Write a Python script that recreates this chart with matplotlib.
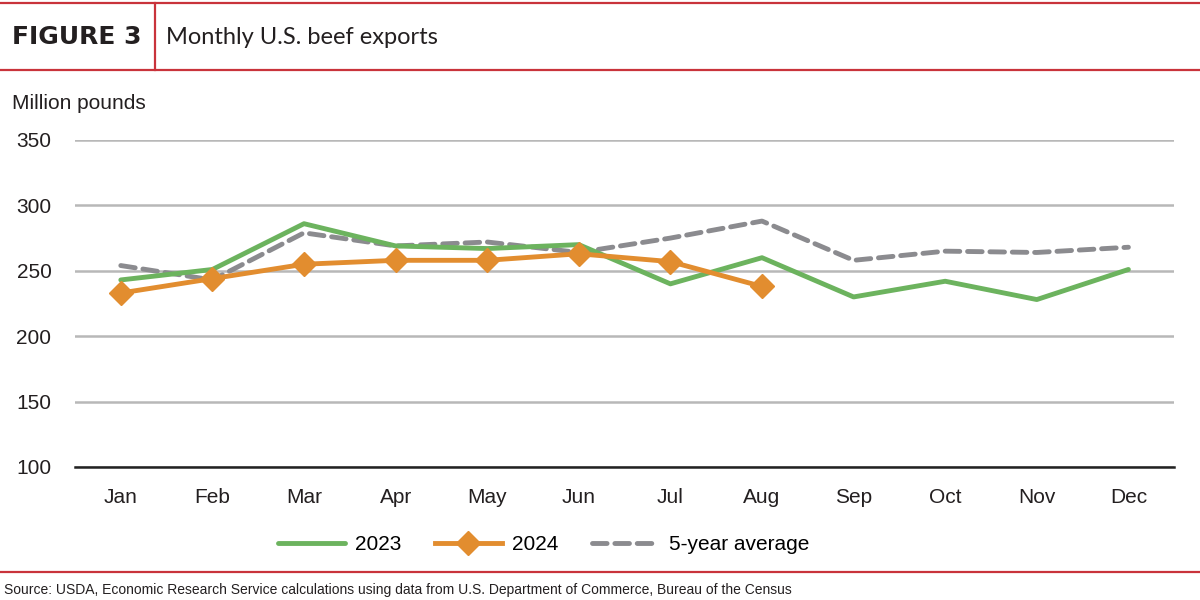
import matplotlib.pyplot as plt
from matplotlib.lines import Line2D

# === DATA ===
months = ["Jan", "Feb", "Mar", "Apr", "May", "Jun", "Jul", "Aug", "Sep", "Oct", "Nov", "Dec"]
y2023 = [243, 251, 286, 269, 267, 270, 240, 260, 230, 242, 228, 251]
y2024 = [233, 244, 255, 258, 258, 263, 257, 238]
avg5 = [254, 243, 279, 269, 272, 264, 275, 288, 258, 265, 264, 268]
yticks = [100, 150, 200, 250, 300, 350]

# === STYLE ===
RED = "#c9333b"
GREEN = "#6cb35e"
ORANGE = "#e28d2f"
GRAY = "#8b8b8f"
GRID = "#b8b8b8"
TXT = "#231f20"
narrow = ["Liberation Sans Narrow", "Liberation Sans", "DejaVu Sans"]

fig = plt.figure(figsize=(12, 6), dpi=100)
ax = fig.add_axes([0.0625, 0.2217, 0.916, 0.545])

x = list(range(len(months)))
ax.plot(x, y2023, color=GREEN, lw=3.5, solid_capstyle="round", zorder=3)
ax.plot(x[:len(y2024)], y2024, color=ORANGE, lw=3.5, marker="D", markersize=12, zorder=4)
ax.plot(x, avg5, color=GRAY, lw=3.5, linestyle=(0, (3, 1.6)), dash_capstyle="round", zorder=2)

ax.set_xlim(-0.5, 11.5)
ax.set_ylim(100, 350)
ax.set_yticks(yticks)
ax.set_xticks(x)
ax.set_xticklabels(months, family=narrow, fontsize=15, color=TXT)
ax.set_yticklabels([str(v) for v in yticks], family=narrow, fontsize=15, color=TXT)
ax.tick_params(length=0)
ax.tick_params(axis="x", pad=15)
ax.tick_params(axis="y", pad=17)
ax.grid(axis="y", color=GRID, lw=1.8)
ax.set_axisbelow(True)
for s in ["top", "right", "left"]:
    ax.spines[s].set_visible(False)
ax.spines["bottom"].set_color("#222222")
ax.spines["bottom"].set_linewidth(1.8)

# Legend
handles = [
    Line2D([], [], color=GREEN, lw=3.5, solid_capstyle="round"),
    Line2D([], [], color=ORANGE, lw=3.5, marker="D", markersize=12),
    Line2D([], [], color=GRAY, lw=3.5, linestyle=(0, (3, 1.6)), dash_capstyle="round"),
]
fig.legend(handles, ["2023", "2024", "5-year average"], loc="center", bbox_to_anchor=(0.453, 0.092),
           ncol=3, frameon=False, handlelength=3.2, columnspacing=1.6, handletextpad=0.5,
           prop={"family": narrow, "size": 15})

# Header and frame lines
fig.add_artist(Line2D([0, 1], [0.995, 0.995], color=RED, lw=1.6))
fig.add_artist(Line2D([0, 1], [0.883, 0.883], color=RED, lw=1.6))
fig.add_artist(Line2D([0.129, 0.129], [0.883, 0.995], color=RED, lw=1.6))
fig.add_artist(Line2D([0, 1], [0.047, 0.047], color=RED, lw=1.6))

fig.text(0.01, 0.938, "FIGURE 3", fontsize=18, fontweight="bold", color=TXT,
         family=["DejaVu Sans"], va="center")
fig.text(0.138, 0.938, "Monthly U.S. beef exports", fontsize=17, color=TXT,
         family=["Lato", "DejaVu Sans"], va="center")
fig.text(0.01, 0.828, "Million pounds", fontsize=15, color=TXT, family=narrow, va="center")
fig.text(0.003, 0.017, "Source: USDA, Economic Research Service calculations using data from U.S. Department of Commerce, Bureau of the Census",
         fontsize=10, color=TXT, family=narrow, va="center")

fig.savefig("out.png", dpi=100, facecolor="white")
